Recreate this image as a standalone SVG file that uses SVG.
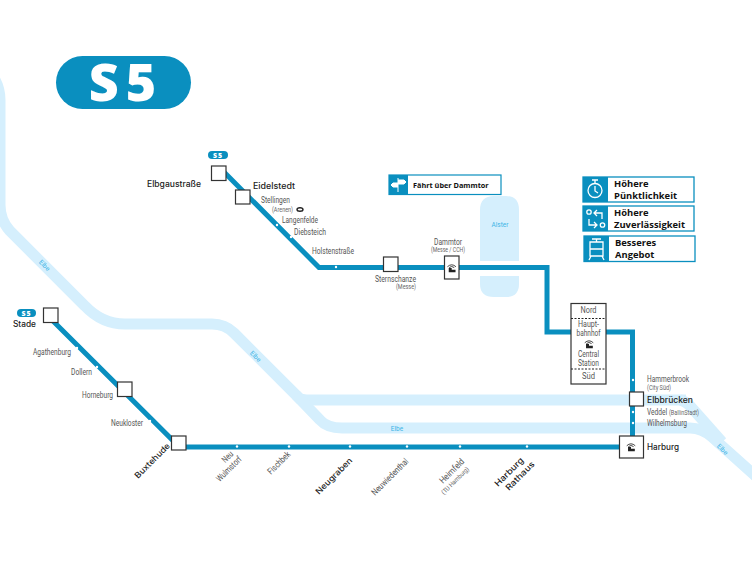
<svg xmlns="http://www.w3.org/2000/svg" width="752" height="564" viewBox="0 0 752 564">
<style>
.river{fill:none;stroke:#d5effd;stroke-width:11}
.line{fill:none;stroke:#0a8fbf;stroke-width:5}
.st{fill:#fff;stroke:#333;stroke-width:1.2}
.tick{fill:#fff}
.big{font:500 8.4px "Inter","Liberation Sans",sans-serif;fill:#222}
.sm{font:400 9px "Roboto","Liberation Sans",sans-serif;fill:#555}
.xs{font:400 6.5px "Roboto","Liberation Sans",sans-serif;fill:#666}
.rv{font:400 6.500px "Roboto","Liberation Sans",sans-serif;fill:#3cb4e6}
.leg{font:700 9.400px "Open Sans","Liberation Sans",sans-serif;fill:#111}
.badge{font:800 7px "Open Sans","Liberation Sans",sans-serif;fill:#fff;letter-spacing:1px}
.ic{fill:none;stroke:#fff;stroke-width:1.3}
</style>
<defs>
<g id="hb" transform="scale(.85)"><path d="M-5 -1.500Q0 -6 5 -1.500M-3 -.5Q0 -3 3 -.5" fill="none" stroke="#222" stroke-width="1"/><path d="M-3.500 5V0H0V2H4.500V5Z" fill="#222"/></g>
</defs>
<g id="rivers">
<path class="river" d="M-6 78Q0 88 0 100V205Q0 220 10 231L85 306Q102 324 125 324H212Q225 324 234 333L300 399Q304 400 316 400H686"/>
<path class="river" d="M296 395L320 420Q327 428 342 428H690Q702 428 712 437L760 480"/>
<path class="river" d="M680 400Q686 401 692 408L722 442"/>
<path d="M480 210Q480 196 494 196H506Q519 196 519 210V261H480ZM480 276H519V284Q519 297 506 297H494Q480 297 480 284Z" fill="#d5effd"/>
<text class="rv" transform="translate(43 267) rotate(45)" text-anchor="middle">Elbe</text>
<text class="rv" transform="translate(254 358) rotate(45)" text-anchor="middle">Elbe</text>
<text class="rv" x="397" y="431" text-anchor="middle">Elbe</text>
<text class="rv" transform="translate(721 451) rotate(45)" text-anchor="middle">Elbe</text>
<text class="rv" x="500" y="227" text-anchor="middle">Alster</text>
</g>
<g id="connectors">
<path class="line" d="M222 170L319 267.500H547V332H632.500V447"/>
<path class="line" d="M48 316L178 445.500L182 447H630"/>
<g class="tick">
<circle cx="277" cy="225" r="1.200"/><circle cx="291" cy="237" r="1.200"/><circle cx="336" cy="267" r="1.200"/>
<circle cx="77" cy="348" r="1.200"/><circle cx="97" cy="367" r="1.200"/><circle cx="150" cy="421" r="1.200"/>
<circle cx="237" cy="446.500" r="1.200"/><circle cx="289" cy="446.500" r="1.200"/><circle cx="350" cy="446.500" r="1.200"/><circle cx="407" cy="446.500" r="1.200"/><circle cx="460" cy="446.500" r="1.200"/><circle cx="527" cy="446.500" r="1.200"/>
<circle cx="633" cy="380" r="1.200"/><circle cx="633" cy="412" r="1.200"/><circle cx="633" cy="423" r="1.200"/>
</g>
</g>
<g id="title"><rect x="56" y="56" width="135" height="53" rx="26.500" fill="#0a8fbf"/><text x="126" y="101" text-anchor="middle" font-family="Open Sans, Liberation Sans, sans-serif" font-weight="800" font-size="52" fill="#fff" letter-spacing="7">S5</text></g>
<g id="badge-north"><rect x="208" y="151" width="20" height="8" rx="4" fill="#0a8fbf"/><text class="badge" x="218" y="158" text-anchor="middle">S5</text></g>
<g id="badge-west"><rect x="17" y="309" width="19" height="8" rx="4" fill="#0a8fbf"/><text class="badge" x="26.500" y="316" text-anchor="middle">S5</text></g>
<g id="elbgaustrasse"><rect class="st" x="211.500" y="166" width="14.500" height="14.500"/><text class="big" x="147" y="187" textLength="54" lengthAdjust="spacingAndGlyphs">Elbgaustraße</text></g>
<g id="eidelstedt"><rect class="st" x="235.500" y="190" width="14.500" height="14"/><text class="big" x="253" y="189" textLength="42" lengthAdjust="spacingAndGlyphs">Eidelstedt</text></g>
<g id="stellingen"><text class="sm" x="261" y="203" textLength="29" lengthAdjust="spacingAndGlyphs">Stellingen</text><text class="xs" x="272" y="212" textLength="21" lengthAdjust="spacingAndGlyphs">(Arenen)</text><ellipse cx="300" cy="209.500" rx="3" ry="1.800" fill="none" stroke="#222" stroke-width="1.400"/></g>
<g id="langenfelde"><text class="sm" x="282" y="223" textLength="36" lengthAdjust="spacingAndGlyphs">Langenfelde</text></g>
<g id="diebsteich"><text class="sm" x="294" y="235" textLength="32" lengthAdjust="spacingAndGlyphs">Diebsteich</text></g>
<g id="holstenstrasse"><text class="sm" x="312" y="254" textLength="42" lengthAdjust="spacingAndGlyphs">Holstenstraße</text></g>
<g id="sternschanze"><rect class="st" x="383.500" y="257" width="14.500" height="14.500"/><text class="sm" x="375" y="282" textLength="41" lengthAdjust="spacingAndGlyphs">Sternschanze</text><text class="xs" x="416" y="289" text-anchor="end" textLength="20" lengthAdjust="spacingAndGlyphs">(Messe)</text></g>
<g id="dammtor"><rect class="st" x="444.500" y="256" width="14.500" height="23"/><use href="#hb" x="451.700" y="268"/><text class="sm" x="448" y="245" text-anchor="middle" textLength="28" lengthAdjust="spacingAndGlyphs">Dammtor</text><text class="xs" x="448" y="252" text-anchor="middle" textLength="34" lengthAdjust="spacingAndGlyphs">(Messe / CCH)</text></g>
<g id="hauptbahnhof"><rect class="st" x="571" y="303.500" width="35" height="80.500"/><path d="M571 318.500H606M571 369H606" stroke="#222" stroke-width="1" stroke-dasharray="2 1.500" fill="none"/>
<g class="sm" text-anchor="middle"><text x="588.500" y="313" textLength="16" lengthAdjust="spacingAndGlyphs">Nord</text><text x="588.500" y="327" textLength="21" lengthAdjust="spacingAndGlyphs">Haupt-</text><text x="588.500" y="336" textLength="24" lengthAdjust="spacingAndGlyphs">bahnhof</text><text x="588.500" y="357" textLength="21" lengthAdjust="spacingAndGlyphs">Central</text><text x="588.500" y="366" textLength="21" lengthAdjust="spacingAndGlyphs">Station</text><text x="588.500" y="379" textLength="13" lengthAdjust="spacingAndGlyphs">Süd</text></g><use href="#hb" x="589" y="344"/></g>
<g id="hammerbrook"><text class="sm" x="647" y="382" textLength="42" lengthAdjust="spacingAndGlyphs">Hammerbrook</text><text class="xs" x="647" y="390" textLength="24" lengthAdjust="spacingAndGlyphs">(City Süd)</text></g>
<g id="elbbruecken"><rect class="st" x="629.500" y="392" width="14" height="14"/><text class="big" x="647" y="403" textLength="46" lengthAdjust="spacingAndGlyphs">Elbbrücken</text></g>
<g id="veddel"><text class="sm" x="647" y="415" textLength="20" lengthAdjust="spacingAndGlyphs">Veddel</text><text class="xs" x="669" y="415" textLength="30" lengthAdjust="spacingAndGlyphs">(BallinStadt)</text></g>
<g id="wilhelmsburg"><text class="sm" x="647" y="426" textLength="40" lengthAdjust="spacingAndGlyphs">Wilhelmsburg</text></g>
<g id="harburg"><rect class="st" x="619.500" y="436" width="24" height="22"/><use href="#hb" x="631" y="447"/><text class="big" x="647" y="450" textLength="32" lengthAdjust="spacingAndGlyphs">Harburg</text></g>
<g id="stade"><rect class="st" x="43.500" y="308" width="14.500" height="14.500"/><text class="big" x="13" y="327" textLength="23" lengthAdjust="spacingAndGlyphs">Stade</text></g>
<g id="agathenburg"><text class="sm" x="33" y="355" textLength="38" lengthAdjust="spacingAndGlyphs">Agathenburg</text></g>
<g id="dollern"><text class="sm" x="71" y="375" textLength="21" lengthAdjust="spacingAndGlyphs">Dollern</text></g>
<g id="horneburg"><rect class="st" x="117.500" y="382" width="14.500" height="14.500"/><text class="sm" x="82" y="398" textLength="31" lengthAdjust="spacingAndGlyphs">Horneburg</text></g>
<g id="neukloster"><text class="sm" x="111" y="426" textLength="32" lengthAdjust="spacingAndGlyphs">Neukloster</text></g>
<g id="buxtehude"><rect class="st" x="171.500" y="436" width="14.500" height="14"/><text class="big" transform="translate(138 479) rotate(-45)" textLength="46" lengthAdjust="spacingAndGlyphs">Buxtehude</text></g>
<g id="neu-wulmstorf"><text class="sm" transform="translate(229.500 459) rotate(-45)" text-anchor="middle" textLength="12" lengthAdjust="spacingAndGlyphs">Neu</text><text class="sm" transform="translate(231 471) rotate(-45)" text-anchor="middle" textLength="32" lengthAdjust="spacingAndGlyphs">Wulmstorf</text></g>
<g id="fischbek"><text class="sm" transform="translate(281 465) rotate(-45)" text-anchor="middle" textLength="28" lengthAdjust="spacingAndGlyphs">Fischbek</text></g>
<g id="neugraben"><text class="big" transform="translate(319 495) rotate(-45)" textLength="48" lengthAdjust="spacingAndGlyphs">Neugraben</text></g>
<g id="neuwiedenthal"><text class="sm" transform="translate(375 496) rotate(-45)" textLength="48" lengthAdjust="spacingAndGlyphs">Neuwiedenthal</text></g>
<g id="heimfeld"><text class="sm" transform="translate(443 484) rotate(-45)" textLength="31" lengthAdjust="spacingAndGlyphs">Heimfeld</text><text class="xs" transform="translate(444 495) rotate(-45)" textLength="36" lengthAdjust="spacingAndGlyphs">(TU Hamburg)</text></g>
<g id="harburg-rathaus"><text class="big" transform="translate(498 487) rotate(-45)" textLength="37" lengthAdjust="spacingAndGlyphs">Harburg</text><text class="big" transform="translate(509 491) rotate(-45)" textLength="37" lengthAdjust="spacingAndGlyphs">Rathaus</text></g>
<g id="info-dammtor"><rect x="389" y="175" width="112" height="19.500" fill="#fff" stroke="#0a8fbf" stroke-width="1.200"/><rect x="389" y="175" width="19" height="19.500" fill="#0a8fbf"/><path d="M398 178V192M398 180H404L406 182L404 184H398M398 183H393L391 185L393 187H398" stroke="#fff" fill="#fff" stroke-width="1"/><text x="413" y="188" font-family="Open Sans, Liberation Sans, sans-serif" font-weight="700" font-size="7.300" fill="#111">Fährt über Dammtor</text></g>
<g id="info-punkt"><rect x="583" y="177" width="111" height="25" fill="#fff" stroke="#0a8fbf" stroke-width="1.300"/><rect x="583" y="177" width="25" height="25" fill="#0a8fbf"/><circle cx="595" cy="190.500" r="7" class="ic"/><path class="ic" d="M592 180H598M595 180V183M595 186V191L598 193"/><text class="leg" x="614" y="187">Höhere</text><text class="leg" x="614" y="198.500">Pünktlichkeit</text></g>
<g id="info-zuv"><rect x="583" y="206" width="111" height="25" fill="#fff" stroke="#0a8fbf" stroke-width="1.300"/><rect x="583" y="206" width="25" height="25" fill="#0a8fbf"/><circle cx="589" cy="212" r="2.200" class="ic"/><circle cx="602.500" cy="225" r="2.200" class="ic"/><path class="ic" d="M602 219V213H594M597 210L594 213L597 216M589 219V225H597M594 222L597 225L594 228"/><text class="leg" x="614" y="216">Höhere</text><text class="leg" x="614" y="228">Zuverlässigkeit</text></g>
<g id="info-angebot"><rect x="584" y="236" width="111" height="25.500" fill="#fff" stroke="#0a8fbf" stroke-width="1.300"/><rect x="584" y="236" width="25" height="25.500" fill="#0a8fbf"/><path class="ic" d="M590 242H603V256H590ZM590 249H603M592 239H601M596.500 239V242M591 256L589 260M602 256L604 260"/><text class="leg" x="615" y="246">Besseres</text><text class="leg" x="615" y="258">Angebot</text></g>
</svg>
